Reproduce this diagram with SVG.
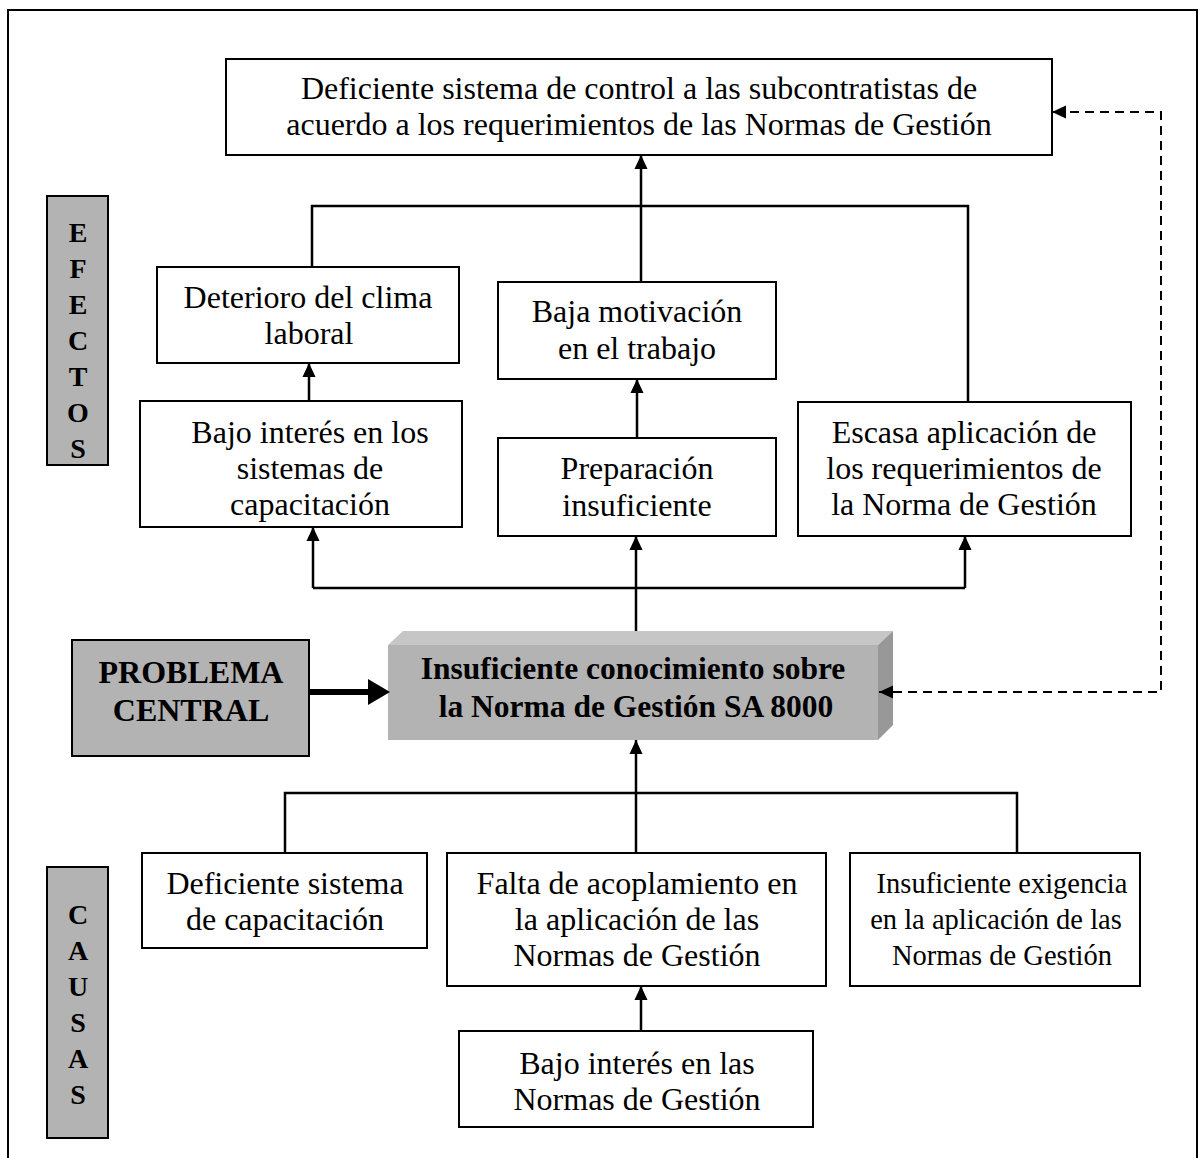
<svg xmlns="http://www.w3.org/2000/svg" width="1200" height="1158" viewBox="0 0 1200 1158">
<style>
.box{fill:#fff;stroke:#000;stroke-width:2}
.gbox{fill:#b3b3b3;stroke:#000;stroke-width:2}
.t{font-family:"Liberation Serif","Times New Roman",serif;font-size:32px;fill:#000;text-anchor:middle}
.s{font-size:28.5px}
.b{font-weight:bold}
.cb{font-size:31.5px}
.lt{font-family:"Liberation Serif","Times New Roman",serif;font-size:28px;font-weight:bold;fill:#000;text-anchor:middle}
.c{fill:none;stroke:#000;stroke-width:2.5}
.d{fill:none;stroke:#000;stroke-width:2;stroke-dasharray:9,6}
</style>
<defs>
<marker id="ah" markerWidth="14" markerHeight="16" refX="15" refY="7" orient="auto" markerUnits="userSpaceOnUse" viewBox="0 0 15 14">
<path d="M0,0 L15,7 L0,14 z" fill="#000"/>
</marker>
</defs>
<rect x="8" y="10" width="1189" height="1170" fill="#fff" stroke="#000" stroke-width="2"/>

<g id="top-effect">
<rect class="box" x="226" y="59" width="826" height="96"/>
<text class="t" x="639" y="99">Deficiente sistema de control a las subcontratistas de</text>
<text class="t" x="639" y="135">acuerdo a los requerimientos de las Normas de Gestión</text>
</g>

<g id="deterioro">
<rect class="box" x="157" y="267" width="302" height="96"/>
<text class="t" x="308" y="308">Deterioro del clima</text>
<text class="t" x="309" y="344">laboral</text>
</g>

<g id="baja-motivacion">
<rect class="box" x="498" y="282" width="278" height="97"/>
<text class="t" x="637" y="322">Baja motivación</text>
<text class="t" x="637" y="359">en el trabajo</text>
</g>

<g id="bajo-interes-sistemas">
<rect class="box" x="140" y="401" width="322" height="126"/>
<text class="t" x="310" y="443">Bajo interés en los</text>
<text class="t" x="310" y="479">sistemas de</text>
<text class="t" x="310" y="515">capacitación</text>
</g>

<g id="preparacion">
<rect class="box" x="498" y="438" width="278" height="98"/>
<text class="t" x="637" y="479">Preparación</text>
<text class="t" x="637" y="516">insuficiente</text>
</g>

<g id="escasa">
<rect class="box" x="798" y="402" width="333" height="134"/>
<text class="t" x="964" y="443">Escasa aplicación de</text>
<text class="t" x="964" y="479">los requerimientos de</text>
<text class="t" x="964" y="515">la Norma de Gestión</text>
</g>

<g id="efectos">
<rect class="gbox" x="47" y="196" width="61" height="269"/>
<text class="lt" x="78" y="242">E</text>
<text class="lt" x="78" y="278">F</text>
<text class="lt" x="78" y="314">E</text>
<text class="lt" x="78" y="350">C</text>
<text class="lt" x="78" y="386">T</text>
<text class="lt" x="78" y="422">O</text>
<text class="lt" x="78" y="458">S</text>
</g>

<g id="problema-central">
<rect class="gbox" x="72" y="640" width="237" height="116"/>
<text class="t b" x="191" y="683">PROBLEMA</text>
<text class="t b" x="191" y="721">CENTRAL</text>
</g>

<g id="central">
<polygon points="388,645 403,631 893,631 878,645" fill="#c6c6c6"/>
<polygon points="878,645 893,631 893,725 878,740" fill="#989898"/>
<rect x="388" y="645" width="490" height="95" fill="#b3b3b3"/>
<text class="t b cb" x="633" y="679">Insuficiente conocimiento sobre</text>
<text class="t b cb" x="636" y="717">la Norma de Gestión SA 8000</text>
</g>

<g id="deficiente-capacitacion">
<rect class="box" x="142" y="853" width="285" height="95"/>
<text class="t" x="285" y="894">Deficiente sistema</text>
<text class="t" x="285" y="930">de capacitación</text>
</g>

<g id="falta-acoplamiento">
<rect class="box" x="447" y="853" width="379" height="133"/>
<text class="t" x="637" y="894">Falta de acoplamiento en</text>
<text class="t" x="637" y="930">la aplicación de las</text>
<text class="t" x="637" y="966">Normas de Gestión</text>
</g>

<g id="insuficiente-exigencia">
<rect class="box" x="850" y="853" width="290" height="133"/>
<text class="t s" x="1002" y="893">Insuficiente exigencia</text>
<text class="t s" x="996" y="929">en la aplicación de las</text>
<text class="t s" x="1002" y="965">Normas de Gestión</text>
</g>

<g id="bajo-interes-normas">
<rect class="box" x="459" y="1031" width="354" height="96"/>
<text class="t" x="637" y="1074">Bajo interés en las</text>
<text class="t" x="637" y="1110">Normas de Gestión</text>
</g>

<g id="causas">
<rect class="gbox" x="47" y="867" width="61" height="271"/>
<text class="lt" x="78" y="924">C</text>
<text class="lt" x="78" y="960">A</text>
<text class="lt" x="78" y="996">U</text>
<text class="lt" x="78" y="1032">S</text>
<text class="lt" x="78" y="1068">A</text>
<text class="lt" x="78" y="1104">S</text>
</g>

<g id="connectors">
<polyline class="c" points="312,267 312,206 968,206 968,402"/>
<line class="c" x1="641" y1="282" x2="641" y2="155" marker-end="url(#ah)"/>
<line class="c" x1="309" y1="401" x2="309" y2="363" marker-end="url(#ah)"/>
<line class="c" x1="637" y1="438" x2="637" y2="379" marker-end="url(#ah)"/>
<line class="c" x1="636" y1="631" x2="636" y2="588"/>
<polyline class="c" points="313,588 965,588"/>
<line class="c" x1="313" y1="588" x2="313" y2="527" marker-end="url(#ah)"/>
<line class="c" x1="636" y1="588" x2="636" y2="536" marker-end="url(#ah)"/>
<line class="c" x1="965" y1="588" x2="965" y2="536" marker-end="url(#ah)"/>
<polyline class="c" points="285,853 285,793 1017,793 1017,853"/>
<line class="c" x1="636" y1="853" x2="636" y2="740" marker-end="url(#ah)"/>
<line class="c" x1="641" y1="1031" x2="641" y2="986" marker-end="url(#ah)"/>
<line x1="309" y1="692" x2="372" y2="692" stroke="#000" stroke-width="6"/>
<polygon points="368,679 390,692 368,705" fill="#000"/>
<polyline class="d" points="893,692 1161,692 1161,112 1066,112"/>
<line x1="893" y1="692" x2="879" y2="692" stroke="#000" stroke-width="2" marker-end="url(#ah)"/>
<line x1="1066" y1="112" x2="1052" y2="112" stroke="#000" stroke-width="2" marker-end="url(#ah)"/>
</g>
</svg>
